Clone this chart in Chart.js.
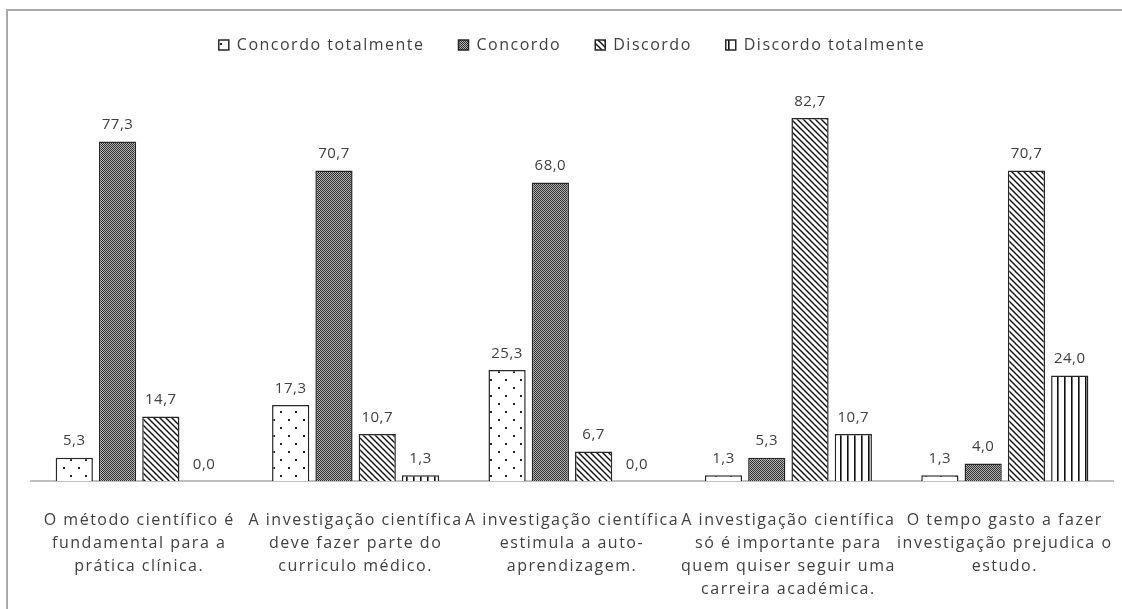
<!DOCTYPE html>
<html>
<head>
<meta charset="utf-8">
<script src="https://cdn.jsdelivr.net/npm/chart.js@4.4.1/dist/chart.umd.min.js"></script>
<style>
    body { margin: 0; background: #fff; }
    #wrap { position: relative; width: 1122px; height: 609px; }
    #frame {
        position: absolute; left: 6px; top: 9px; right: -4px; bottom: -4px;
        border-left: 2px solid #a9a9a9; border-top: 2px solid #a9a9a9;
    }
    canvas { position: absolute; left: 0; top: 0; }
</style>
</head>
<body>
<div id="wrap">
    <div id="frame"></div>
    <canvas id="bars" width="1122" height="609"></canvas>
</div>
<script>
const categories = [
    ['O método científico é', 'fundamental para a', 'prática clínica.'],
    ['A investigação científica', 'deve fazer parte do', 'curriculo médico.'],
    ['A investigação científica', 'estimula a auto-', 'aprendizagem.'],
    ['A investigação científica', 'só é importante para', 'quem quiser seguir uma', 'carreira académica.'],
    ['O tempo gasto a fazer', 'investigação prejudica o', 'estudo.']
];
const seriesNames = ['Concordo totalmente', 'Concordo', 'Discordo', 'Discordo totalmente'];
const concordoTotalmente = [5.3, 17.3, 25.3, 1.3, 1.3];
const concordo = [77.3, 70.7, 68.0, 5.3, 4.0];
const discordo = [14.7, 10.7, 6.7, 82.7, 70.7];
const discordoTotalmente = [0.0, 1.3, 0.0, 10.7, 24.0];

const ctx = document.getElementById('bars').getContext('2d');

// small tiles used as fills
function makePattern(w, h, paint) {
    const c = document.createElement('canvas');
    c.width = w;
    c.height = h;
    const g = c.getContext('2d');
    g.fillStyle = '#fff';
    g.fillRect(0, 0, w, h);
    paint(g);
    return ctx.createPattern(c, 'repeat');
}

const dots = makePattern(15, 16, g => {
    g.fillStyle = '#222';
    g.fillRect(3, 3, 2, 2);
    g.fillRect(10, 11, 2, 2);
});
const checker = makePattern(2, 2, g => {
    g.fillStyle = '#b4b4b4';
    g.fillRect(0, 0, 2, 2);
    g.fillStyle = '#2e2e2e';
    g.fillRect(0, 0, 1, 1);
    g.fillRect(1, 1, 1, 1);
});
const diagonal = makePattern(6, 6, g => {
    g.strokeStyle = '#111';
    g.lineWidth = 1.4;
    g.beginPath();
    g.moveTo(-1, -1); g.lineTo(7, 7);
    g.moveTo(-1, 5); g.lineTo(1, 7);
    g.moveTo(5, -1); g.lineTo(7, 1);
    g.stroke();
});
const vertical = makePattern(7, 4, g => {
    g.fillStyle = '#111';
    g.fillRect(0, 0, 1.6, 4);
});

const fills = [dots, checker, diagonal, vertical];
const values = [concordoTotalmente, concordo, discordo, discordoTotalmente];

// the text in this chart is set a little loose
const spacing = {
    id: 'spacing',
    beforeLayout(chart) { chart.ctx.letterSpacing = '1.5px'; },
    beforeDraw(chart) { chart.ctx.letterSpacing = '1.5px'; }
};

const valueLabels = {
    id: 'valueLabels',
    afterDatasetsDraw(chart) {
        const c = chart.ctx;
        c.save();
        c.letterSpacing = '0.5px';
        c.font = '15px "Open Sans"';
        c.fillStyle = '#404040';
        c.textAlign = 'center';
        c.textBaseline = 'bottom';
        chart.data.datasets.forEach((ds, i) => {
            chart.getDatasetMeta(i).data.forEach((bar, j) => {
                c.fillText(ds.data[j].toFixed(1).replace('.', ','), bar.x, bar.y - 9);
            });
        });
        c.restore();
    }
};

new Chart(ctx, {
    type: 'bar',
    data: {
        labels: categories,
        datasets: seriesNames.map((name, i) => ({
            label: name,
            data: values[i],
            backgroundColor: fills[i],
            borderColor: '#262626',
            borderWidth: 1.5,
            borderSkipped: 'start',
            categoryPercentage: 0.8,
            barPercentage: 0.86
        }))
    },
    options: {
        responsive: false,
        animation: false,
        layout: { padding: { left: 31, right: 9, top: 3, bottom: 0 } },
        plugins: {
            legend: {
                position: 'top',
                labels: {
                    font: { family: 'Open Sans', size: 16 },
                    color: '#404040',
                    boxWidth: 10,
                    boxHeight: 10,
                    padding: 34
                }
            },
            tooltip: { enabled: false }
        },
        scales: {
            x: {
                grid: { display: false, drawTicks: false },
                border: { display: true, color: '#bfbfbf', width: 2 },
                ticks: {
                    font: { family: 'Open Sans', size: 16, lineHeight: 1.44 },
                    color: '#404040',
                    maxRotation: 0,
                    autoSkip: false,
                    padding: 28
                },
                afterFit(scale) {
                    // labels may spill past the plot edges, like the original layout
                    scale.height = 128;
                    scale.paddingLeft = 0;
                    scale.paddingRight = 0;
                }
            },
            y: {
                display: false,
                min: 0,
                max: 95.2
            }
        }
    },
    plugins: [spacing, valueLabels]
});
</script>
</body>
</html>
